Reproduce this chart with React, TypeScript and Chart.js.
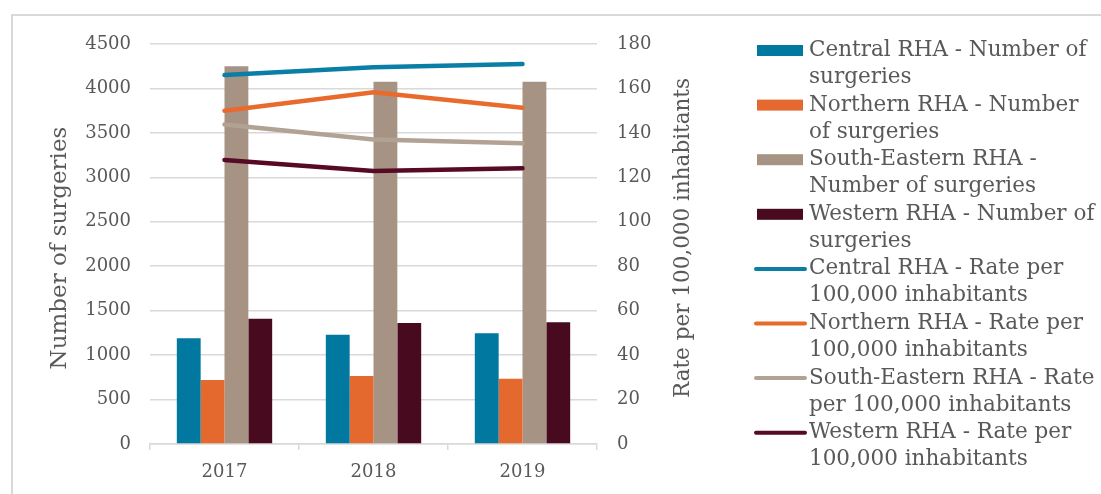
import React, { useEffect, useRef } from "react";
import { Chart, registerables } from "chart.js";

Chart.register(...registerables);

// Years on the category axis
const years = ["2017", "2018", "2019"];

// Number of surgeries per regional health authority
const centralSurgeries = [1190, 1230, 1245];
const northernSurgeries = [720, 765, 735];
const southEasternSurgeries = [4250, 4075, 4075];
const westernSurgeries = [1410, 1360, 1370];

// Rate per 100,000 inhabitants
const centralRate = [166, 169.5, 171];
const northernRate = [150, 158.3, 151.3];
const southEasternRate = [143.8, 137, 135.3];
const westernRate = [127.8, 122.8, 124.1];

// Axis ranges
const surgeriesMax = 4500;
const surgeriesStep = 500;
const rateMax = 180;
const rateStep = 20;

const leftTitle = "Number of surgeries";
const rightTitle = "Rate per 100,000 inhabitants";

// Legend entries, each wrapped over two lines
const legendLines: string[][] = [
  ["Central RHA - Number of", "surgeries"],
  ["Northern RHA - Number", "of surgeries"],
  ["South-Eastern RHA -", "Number of surgeries"],
  ["Western RHA - Number of", "surgeries"],
  ["Central RHA - Rate per", "100,000 inhabitants"],
  ["Northern RHA - Rate per", "100,000 inhabitants"],
  ["South-Eastern RHA - Rate", "per 100,000 inhabitants"],
  ["Western RHA - Rate per", "100,000 inhabitants"],
];

const BLUE = "#00789f";
const ORANGE = "#e4692f";
const TAUPE = "#a69384";
const MAROON = "#470a1f";
const BLUE_LINE = "#0b7ea6";
const ORANGE_LINE = "#e86b2d";
const TAUPE_LINE = "#b1a294";
const MAROON_LINE = "#560a26";

const TEXT = "#595959";
const GRID = "#d9d9d9";
const FONT = "'DejaVu Serif', 'Liberation Serif', serif";

function drawVerticalTitle(
  ctx: CanvasRenderingContext2D,
  text: string,
  x: number,
  y: number,
  size: number
) {
  ctx.save();
  ctx.font = `${size}px ${FONT}`;
  ctx.fillStyle = TEXT;
  ctx.textAlign = "center";
  ctx.textBaseline = "middle";
  ctx.translate(x, y);
  ctx.rotate(-Math.PI / 2);
  ctx.fillText(text, 0, 0);
  ctx.restore();
}

// Axis titles (both read bottom-to-top) and the wrapped legend on the right
const titlesAndLegend = {
  id: "titlesAndLegend",
  afterDraw(chart: any) {
    const ctx = chart.ctx as CanvasRenderingContext2D;
    const datasets = chart.data.datasets;
    const area = chart.chartArea;

    drawVerticalTitle(ctx, leftTitle, area.left - 90, area.top + 204, 23);
    drawVerticalTitle(ctx, rightTitle, area.right + 86, area.top + 194, 21.5);

    ctx.save();
    ctx.font = `21.5px ${FONT}`;
    ctx.textBaseline = "middle";
    ctx.textAlign = "left";
    const top = 50.5;
    const itemGap = 54.6;
    const lineGap = 27;
    datasets.forEach((ds: any, i: number) => {
      const y = top + i * itemGap;
      if (ds.type === "line") {
        ctx.strokeStyle = ds.borderColor;
        ctx.lineWidth = 4;
        ctx.lineCap = "round";
        ctx.beginPath();
        ctx.moveTo(756, y);
        ctx.lineTo(805, y);
        ctx.stroke();
      } else {
        ctx.fillStyle = ds.backgroundColor;
        ctx.fillRect(757, y - 5.5, 46, 11);
      }
      ctx.fillStyle = TEXT;
      legendLines[i].forEach((t, j) => {
        ctx.fillText(t, 809, y + j * lineGap);
      });
    });
    ctx.restore();
  },
};

const plainNumber = (v: any) => String(v);

export default function App() {
  const canvasRef = useRef<HTMLCanvasElement | null>(null);

  useEffect(() => {
    if (!canvasRef.current) return;
    const barDs = (data: number[], color: string) => ({
      type: "bar" as const,
      data,
      backgroundColor: color,
      borderWidth: 0,
      yAxisID: "y",
      order: 2,
      categoryPercentage: 0.64,
      barPercentage: 1,
    });
    const lineDs = (data: number[], color: string) => ({
      type: "line" as const,
      data,
      borderColor: color,
      backgroundColor: color,
      borderWidth: 4.5,
      pointRadius: 0,
      tension: 0,
      borderCapStyle: "round" as const,
      yAxisID: "y1",
      order: 1,
    });
    const chart = new Chart(canvasRef.current, {
      type: "bar",
      data: {
        labels: years,
        datasets: [
          barDs(centralSurgeries, BLUE),
          barDs(northernSurgeries, ORANGE),
          barDs(southEasternSurgeries, TAUPE),
          barDs(westernSurgeries, MAROON),
          lineDs(centralRate, BLUE_LINE),
          lineDs(northernRate, ORANGE_LINE),
          lineDs(southEasternRate, TAUPE_LINE),
          lineDs(westernRate, MAROON_LINE),
        ] as any,
      },
      options: {
        animation: false,
        responsive: false,
        layout: { padding: { left: 0, top: 44, right: 384, bottom: 0 } },
        plugins: {
          legend: { display: false },
          tooltip: { enabled: false },
        },
        scales: {
          x: {
            afterFit: (s: any) => {
              s.height = 50;
            },
            grid: {
              display: true,
              drawOnChartArea: false,
              drawTicks: true,
              tickLength: 6,
              color: GRID,
              lineWidth: 1.5,
              offset: true,
            },
            border: { display: true, color: GRID, width: 1.5 },
            ticks: {
              color: TEXT,
              font: { family: FONT, size: 18 },
              padding: 12,
            },
          },
          y: {
            position: "left",
            min: 0,
            max: surgeriesMax,
            afterFit: (s: any) => {
              s.width = 150;
            },
            ticks: {
              stepSize: surgeriesStep,
              color: TEXT,
              font: { family: FONT, size: 18 },
              padding: 19,
              callback: plainNumber,
            },
            grid: { color: GRID, lineWidth: 1.5, drawTicks: false },
            border: { display: false },
          },
          y1: {
            position: "right",
            min: 0,
            max: rateMax,
            afterFit: (s: any) => {
              s.width = 120;
            },
            ticks: {
              stepSize: rateStep,
              color: TEXT,
              font: { family: FONT, size: 18 },
              padding: 20,
              callback: plainNumber,
            },
            grid: { display: false, drawTicks: false },
            border: { display: false },
          },
        },
      },
      plugins: [titlesAndLegend],
    });
    return () => chart.destroy();
  }, []);

  return (
    <div
      style={{
        position: "fixed",
        left: 0,
        top: 0,
        width: 1101,
        height: 494,
        overflow: "hidden",
        background: "#ffffff",
      }}
    >
      <div
        style={{
          position: "absolute",
          left: 11,
          top: 14,
          width: 1200,
          height: 600,
          border: `2px solid ${GRID}`,
          boxSizing: "border-box",
        }}
      />
      <canvas
        ref={canvasRef}
        width={1101}
        height={494}
        style={{ position: "absolute", left: 0, top: 0, width: 1101, height: 494 }}
      />
    </div>
  );
}
